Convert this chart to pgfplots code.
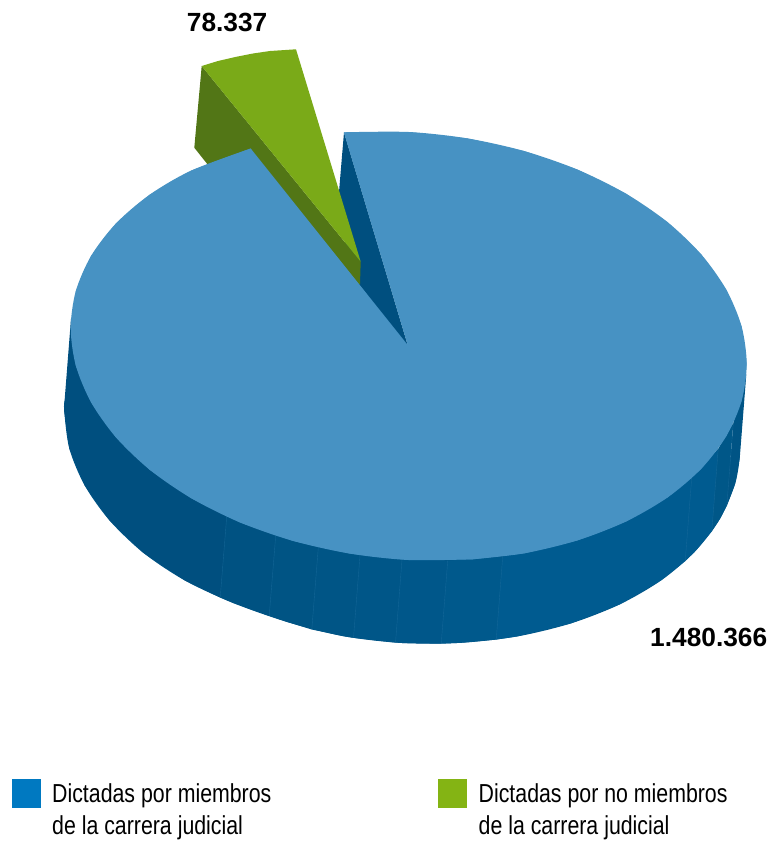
\documentclass[border=0pt]{standalone}
\usepackage{pgfplots}
\pgfplotsset{compat=1.18}
\usepackage{fontspec}
\setmainfont{Liberation Sans}
\newfontfamily\narrowfont[FakeStretch=0.82]{Liberation Sans}
\definecolor{pieTop}{HTML}{4792C3}
\definecolor{cutBlue}{HTML}{004F7F}
\definecolor{sideMid}{HTML}{005688}
\definecolor{seam}{HTML}{2A7AAA}
\definecolor{greenTop}{HTML}{7AAA18}
\definecolor{greenSide}{HTML}{527616}
\definecolor{legBlue}{HTML}{0079C1}
\definecolor{legGreen}{HTML}{84B414}
\begin{document}
\begin{tikzpicture}
\begin{axis}[
    scale only axis,
    width=771pt, height=844pt,
    xmin=0, xmax=771,
    ymin=0, ymax=844,
    y dir=reverse,
    hide axis,
    clip=false,
    every axis plot/.append style={draw=none},
]
% white sheet, keeps the page at the full size
\addplot[fill=white] coordinates {(0,0) (771,0) (771,844) (0,844)} --cycle;
% whole lower rim, under the facets
\addplot[fill=sideMid, smooth] coordinates {
    (739.8,457.4) (735.1,483.9) (719.8,519.1) (694.9,551.6) (661.1,580.4) (619.5,604.5)
    (571.2,623.3) (517.8,636.3) (460.9,642.8) (402.2,643) (343.5,636.2) (286.6,621.8)
    (233.2,603) (184.9,580.5) (143.3,552.8) (109.5,520.4) (84.6,485.3) (69.3,448.5)
    (64.2,411) (64.6,400.5)};
% side of the pie, one facet at a time, left to right
\addplot[fill=cutBlue] coordinates {(71.1,317.5) (64.6,400.5) (64.2,411) (69.3,448.5) (84.6,485.3) (109.5,520.4) (143.3,552.8) (184.9,580.5) (220.2,597.5) (226.7,516.6)} --cycle;
\addplot[fill={rgb,255:red,0;green,82;blue,130}] coordinates {(220.2,597.5) (233.2,603) (269.2,615.8) (275.7,535.6) (226.7,516.6)} --cycle;
\addplot[fill={rgb,255:red,0;green,84;blue,132}] coordinates {(269.2,615.8) (286.6,621.8) (311.8,629.5) (318.3,547.4) (275.7,535.6)} --cycle;
\addplot[fill={rgb,255:red,0;green,85;blue,134}] coordinates {(311.8,629.5) (343.5,636.2) (353.5,637.8) (360,555.2) (318.3,547.4)} --cycle;
\addplot[fill={rgb,255:red,0;green,86;blue,136}] coordinates {(353.5,637.8) (395.5,642.6) (402,559.6) (360,555.2)} --cycle;
\addplot[fill={rgb,255:red,0;green,87;blue,138}] coordinates {(395.5,642.6) (402.2,643) (441.2,643.7) (447.7,560.7) (402,559.6)} --cycle;
\addplot[fill={rgb,255:red,0;green,89;blue,140}] coordinates {(441.2,643.7) (460.9,642.8) (496.2,639.6) (502.7,556.6) (447.7,560.7)} --cycle;
\addplot[fill={rgb,255:red,0;green,91;blue,144}] coordinates {(496.2,639.6) (517.8,636.3) (571.2,623.3) (619.5,604.5) (661.1,580.4) (685.2,561.1) (691.7,478.1) (600,530) (502.7,556.6)} --cycle;
\addplot[fill={rgb,255:red,0;green,91;blue,144}] coordinates {(685.2,561.1) (694.9,551.6) (711.8,531.4) (718.3,448.4) (691.7,478.1)} --cycle;
\addplot[fill={rgb,255:red,0;green,87;blue,136}] coordinates {(711.8,531.4) (719.8,519.1) (726.8,505.9) (733.3,422.9) (718.3,448.4)} --cycle;
\addplot[fill={rgb,255:red,0;green,84;blue,133}] coordinates {(726.8,505.9) (735.1,483.9) (739.8,457.4) (746.3,374.4) (733.3,422.9)} --cycle;
% faint seams between facets
\addplot[draw=seam, line width=0.4pt, opacity=0.45] coordinates {(220.2,597.5) (226.7,516.6)};
\addplot[draw=seam, line width=0.4pt, opacity=0.45] coordinates {(269.2,615.8) (275.7,535.6)};
\addplot[draw=seam, line width=0.4pt, opacity=0.45] coordinates {(311.8,629.5) (318.3,547.4)};
\addplot[draw=seam, line width=0.4pt, opacity=0.45] coordinates {(353.5,637.8) (360,555.2)};
\addplot[draw=seam, line width=0.4pt, opacity=0.45] coordinates {(395.5,642.6) (402,559.6)};
\addplot[draw=seam, line width=0.4pt, opacity=0.45] coordinates {(441.2,643.7) (447.7,560.7)};
\addplot[draw=seam, line width=0.4pt, opacity=0.45] coordinates {(496.2,639.6) (502.7,556.6)};
\addplot[draw=seam, line width=0.4pt, opacity=0.45] coordinates {(685.2,561.1) (691.7,478.1)};
\addplot[draw=seam, line width=0.4pt, opacity=0.45] coordinates {(711.8,531.4) (718.3,448.4)};
\addplot[draw=seam, line width=0.4pt, opacity=0.45] coordinates {(726.8,505.9) (733.3,422.9)};
% cut face of the big slice
\addplot[fill=cutBlue] coordinates {(344,132.3) (339,192) (345,230) (345,280) (400,350) (407.7,345)} --cycle;
% small slice
\addplot[fill=greenSide] coordinates {(201.7,66) (194.3,147.7) (206.7,163.3) (230,190) (352,285) (360,284) (360.7,261.7)} --cycle;
\addplot[fill=greenTop] coordinates {(201.7,66) (218,61) (236.7,56.7) (253,53.5) (270,51) (296,49.3) (360.7,261.7)} --cycle;
% top of the big slice: two curved parts, then the slice outline over them
\addplot[fill=pieTop, smooth] coordinates {
    (344,132.3) (408.7,132) (467.4,138.4) (524.3,151.1) (577.7,169.7) (626,193.7)
    (667.6,222.2) (701.4,254.6) (726.3,289.7) (741.6,326.5) (746.7,364) (741.6,400.9)
    (726.3,436.1) (701.4,468.6) (667.6,497.4) (626,521.5) (577.7,540.3) (524.3,553.3)
    (472.5,559.3)};
\addplot[fill=pieTop, smooth] coordinates {
    (472.5,559.3) (408.7,560) (350,553.6) (293.1,540.9) (239.7,522.3) (191.4,498.3)
    (149.8,469.8) (116,437.4) (91.1,402.3) (75.8,365.5) (70.7,328) (75.8,291.1)
    (91.1,255.9) (116,223.4) (149.8,194.6) (191.4,170.5) (250.7,148.5)};
\addplot[fill=pieTop] coordinates {
    (407.7,345) (344,132.3) (408.7,132) (467.4,138.4) (524.3,151.1) (577.7,169.7) (626,193.7)
    (667.6,222.2) (701.4,254.6) (726.3,289.7) (741.6,326.5) (746.7,364) (741.6,400.9)
    (726.3,436.1) (701.4,468.6) (667.6,497.4) (626,521.5) (577.7,540.3) (524.3,553.3)
    (472.5,559.3) (408.7,560) (350,553.6) (293.1,540.9) (239.7,522.3) (191.4,498.3)
    (149.8,469.8) (116,437.4) (91.1,402.3) (75.8,365.5) (70.7,328) (75.8,291.1)
    (91.1,255.9) (116,223.4) (149.8,194.6) (191.4,170.5) (250.7,148.5)} --cycle;
% legend swatches
\addplot[fill=legBlue] coordinates {(12.3,779) (41,779) (41,808) (12.3,808)} --cycle;
\addplot[fill=legGreen] coordinates {(438,779) (467,779) (467,808) (438,808)} --cycle;
% value labels and legend text
\node[anchor=base west, inner sep=0pt, font=\fontsize{26.3}{30}\selectfont\bfseries] at (axis cs:186.7,31.7) {78.337};
\node[anchor=base west, inner sep=0pt, font=\fontsize{26.3}{30}\selectfont\bfseries] at (axis cs:650,646.5) {1.480.366};
\node[anchor=base west, inner sep=0pt, font=\fontsize{26}{30}\selectfont\narrowfont] at (axis cs:52,802) {Dictadas por miembros};
\node[anchor=base west, inner sep=0pt, font=\fontsize{26}{30}\selectfont\narrowfont] at (axis cs:52,834) {de la carrera judicial};
\node[anchor=base west, inner sep=0pt, font=\fontsize{26}{30}\selectfont\narrowfont] at (axis cs:478.5,802) {Dictadas por no miembros};
\node[anchor=base west, inner sep=0pt, font=\fontsize{26}{30}\selectfont\narrowfont] at (axis cs:478.5,834) {de la carrera judicial};
\end{axis}
\end{tikzpicture}
\end{document}
